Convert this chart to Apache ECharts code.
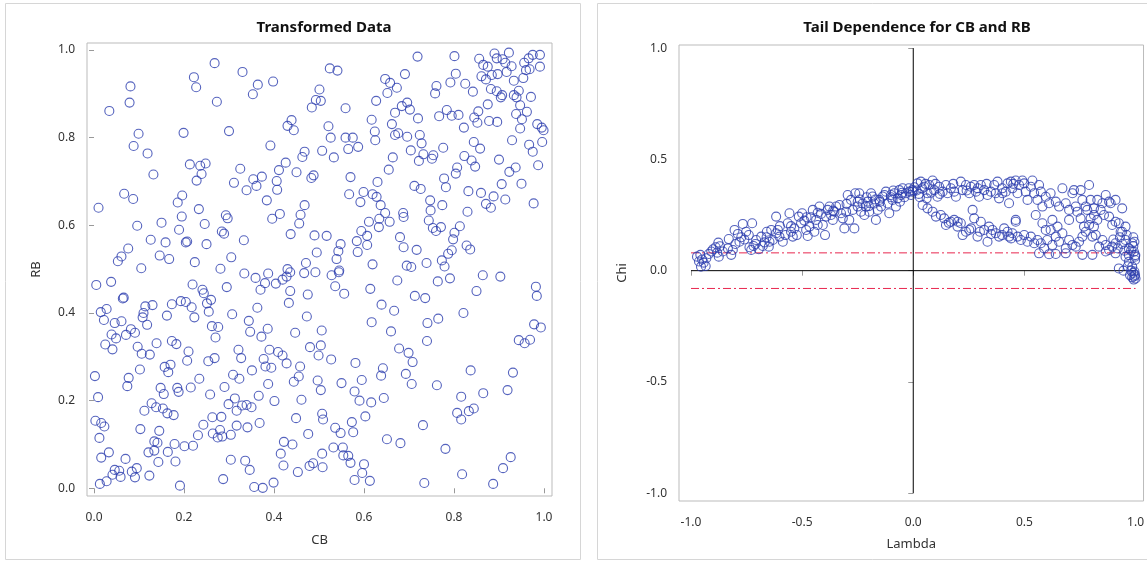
<!DOCTYPE html>
<html lang="en">
<head>
<meta charset="utf-8" />
<title>Transformed Data / Tail Dependence</title>
<script src="https://cdn.jsdelivr.net/npm/echarts@6/dist/echarts.min.js"></script>
<style>
	html, body { margin: 0; padding: 0; background: #fff; }
	#chart { width: 1147px; height: 562px; }
</style>
</head>
<body>
<div id="chart"></div>
<script>
// CB vs RB (copula scale)
var transformed = [
	[0.268,0.970],[0.330,0.950],[0.222,0.938],[0.227,0.915],[0.081,0.917],[0.364,0.921],[0.398,0.928],[0.353,0.899],[0.501,0.910],[0.079,0.880],
	[0.273,0.882],[0.034,0.861],[0.493,0.886],[0.504,0.884],[0.484,0.869],[0.439,0.840],[0.430,0.827],[0.444,0.817],[0.099,0.809],[0.199,0.811],
	[0.300,0.815],[0.088,0.781],[0.392,0.782],[0.119,0.764],[0.468,0.768],[0.463,0.756],[0.507,0.770],[0.213,0.739],[0.236,0.736],[0.248,0.741],
	[0.239,0.717],[0.228,0.702],[0.132,0.716],[0.325,0.729],[0.426,0.743],[0.411,0.726],[0.450,0.721],[0.311,0.697],[0.354,0.705],[0.373,0.711],
	[0.361,0.690],[0.339,0.680],[0.406,0.701],[0.407,0.681],[0.483,0.708],[0.488,0.714],[0.067,0.672],[0.087,0.660],[0.196,0.668],[0.186,0.652],
	[0.010,0.640],[0.233,0.637],[0.384,0.657],[0.468,0.646],[0.293,0.623],[0.297,0.616],[0.195,0.620],[0.396,0.615],[0.413,0.626],[0.459,0.624],
	[0.456,0.604],[0.096,0.599],[0.150,0.606],[0.246,0.603],[0.189,0.590],[0.284,0.586],[0.289,0.581],[0.437,0.580],[0.490,0.577],[0.126,0.567],
	[0.159,0.561],[0.204,0.561],[0.207,0.563],[0.250,0.557],[0.333,0.566],[0.076,0.547],[0.061,0.529],[0.053,0.518],[0.146,0.531],[0.167,0.523],
	[0.224,0.516],[0.305,0.527],[0.495,0.538],[0.471,0.514],[0.105,0.502],[0.281,0.501],[0.430,0.500],
	[0.334,0.490],[0.359,0.480],[0.387,0.490],[0.380,0.468],[0.370,0.453],[0.404,0.467],[0.419,0.476],[0.428,0.483],[0.436,0.493],[0.467,0.491],
	[0.492,0.493],[0.005,0.464],[0.038,0.471],[0.219,0.465],[0.241,0.453],[0.244,0.445],[0.295,0.459],[0.436,0.450],[0.475,0.442],[0.064,0.433],
	[0.066,0.435],[0.015,0.402],[0.028,0.409],[0.022,0.384],[0.046,0.377],[0.061,0.381],[0.114,0.415],[0.130,0.418],[0.110,0.400],[0.108,0.390],
	[0.118,0.373],[0.173,0.420],[0.193,0.427],[0.204,0.425],[0.217,0.413],[0.223,0.390],[0.251,0.422],[0.260,0.430],[0.255,0.403],[0.162,0.394],
	[0.307,0.397],[0.363,0.412],[0.344,0.382],[0.433,0.423],[0.473,0.392],[0.262,0.370],[0.276,0.368],[0.270,0.344],[0.347,0.357],[0.386,0.364],
	[0.372,0.346],[0.447,0.355],[0.506,0.360],[0.039,0.351],[0.049,0.342],[0.082,0.363],[0.091,0.355],[0.071,0.350],[0.025,0.328],[0.041,0.317],
	[0.097,0.323],[0.106,0.307],[0.124,0.305],[0.139,0.331],[0.173,0.336],[0.183,0.329],[0.210,0.312],[0.207,0.291],[0.254,0.290],[0.268,0.297],
	[0.321,0.316],[0.327,0.297],[0.351,0.269],[0.377,0.295],[0.381,0.278],[0.394,0.275],[0.390,0.316],[0.409,0.311],[0.419,0.303],[0.428,0.285],
	[0.458,0.278],[0.455,0.255],[0.444,0.243],[0.480,0.322],[0.499,0.303],[0.504,0.326],[0.497,0.246],[0.504,0.224],[0.461,0.202],[0.507,0.170],
	[0.509,0.157],[0.002,0.256],[0.077,0.252],[0.074,0.233],[0.102,0.271],[0.157,0.277],[0.170,0.282],[0.165,0.265],[0.148,0.229],[0.155,0.215],
	[0.185,0.229],[0.188,0.220],[0.215,0.230],[0.234,0.250],[0.258,0.214],[0.290,0.231],[0.309,0.259],[0.323,0.250],[0.313,0.205],[0.299,0.192],
	[0.317,0.177],[0.329,0.189],[0.339,0.190],[0.350,0.185],[0.366,0.211],[0.387,0.238],[0.401,0.199],[0.009,0.208],[0.128,0.194],[0.138,0.185],
	[0.153,0.182],[0.163,0.171],[0.177,0.167],[0.112,0.177],[0.003,0.154],[0.016,0.149],[0.023,0.141],[0.012,0.115],[0.103,0.135],[0.145,0.131],
	[0.134,0.107],[0.141,0.104],[0.179,0.101],[0.263,0.162],[0.283,0.163],[0.243,0.145],[0.264,0.125],[0.275,0.116],[0.280,0.133],[0.285,0.118],
	[0.304,0.122],[0.317,0.143],[0.341,0.139],[0.368,0.149],[0.201,0.096],[0.220,0.097],[0.231,0.121],[0.449,0.160],[0.476,0.124],[0.422,0.106],
	[0.441,0.100],[0.415,0.079],[0.421,0.052],[0.033,0.082],[0.016,0.070],[0.070,0.067],[0.121,0.082],[0.134,0.086],[0.164,0.083],[0.143,0.060],
	[0.181,0.061],[0.304,0.065],[0.336,0.063],[0.346,0.042],[0.046,0.042],[0.056,0.040],[0.041,0.031],[0.059,0.026],[0.084,0.038],[0.095,0.046],
	[0.091,0.025],[0.123,0.029],[0.013,0.010],[0.028,0.016],[0.191,0.006],[0.287,0.021],[0.356,0.003],[0.375,0.001],[0.399,0.013],[0.453,0.037],
	[0.479,0.051],[0.487,0.057],[0.507,0.079],[0.508,0.048],
	[0.528,0.486],[0.544,0.493],[0.536,0.461],[0.556,0.444],[0.614,0.455],[0.674,0.474],[0.764,0.472],[0.791,0.479],[0.864,0.486],[0.903,0.483],
	[0.850,0.450],[0.982,0.460],[0.984,0.439],[0.713,0.439],[0.736,0.434],[0.639,0.419],[0.667,0.405],[0.617,0.379],[0.660,0.358],[0.741,0.377],
	[0.765,0.387],[0.821,0.400],[0.978,0.374],[0.993,0.367],[0.944,0.338],[0.957,0.331],[0.969,0.339],[0.740,0.336],[0.678,0.319],[0.699,0.309],
	[0.708,0.288],[0.527,0.294],[0.581,0.286],[0.642,0.274],[0.638,0.257],[0.595,0.247],[0.550,0.240],[0.693,0.261],[0.706,0.238],[0.762,0.235],
	[0.837,0.269],[0.931,0.264],[0.919,0.224],[0.865,0.217],[0.816,0.209],[0.579,0.221],[0.590,0.200],[0.616,0.196],[0.644,0.206],[0.603,0.164],
	[0.573,0.151],[0.576,0.128],[0.536,0.138],[0.548,0.126],[0.807,0.172],[0.833,0.176],[0.844,0.182],[0.816,0.157],[0.731,0.144],[0.651,0.112],
	[0.681,0.103],[0.781,0.090],[0.532,0.093],[0.553,0.093],[0.554,0.075],[0.565,0.074],[0.570,0.058],[0.600,0.055],[0.596,0.035],[0.579,0.019],
	[0.613,0.017],[0.734,0.012],[0.818,0.032],[0.887,0.010],[0.909,0.046],[0.926,0.071],
	[0.719,0.985],[0.801,0.986],[0.856,0.980],[0.890,0.992],[0.895,0.981],[0.908,0.979],[0.922,0.994],[0.914,0.971],[0.928,0.963],[0.865,0.966],
	[0.875,0.962],[0.956,0.971],[0.966,0.981],[0.975,0.989],[0.991,0.989],[0.960,0.954],[0.968,0.956],[0.991,0.962],[0.524,0.958],[0.541,0.953],
	[0.691,0.945],[0.804,0.946],[0.861,0.940],[0.871,0.933],[0.884,0.943],[0.897,0.945],[0.917,0.950],[0.933,0.930],[0.954,0.936],[0.647,0.934],
	[0.658,0.925],[0.673,0.914],[0.652,0.902],[0.761,0.918],[0.758,0.901],[0.792,0.926],[0.825,0.923],[0.842,0.905],[0.882,0.911],[0.895,0.906],
	[0.907,0.897],[0.904,0.892],[0.933,0.897],[0.944,0.907],[0.939,0.892],[0.947,0.874],[0.938,0.854],[0.951,0.842],[0.962,0.859],[0.971,0.893],
	[0.627,0.884],[0.559,0.867],[0.684,0.872],[0.696,0.880],[0.702,0.864],[0.669,0.857],[0.617,0.841],[0.662,0.831],[0.720,0.844],[0.767,0.849],
	[0.784,0.863],[0.795,0.850],[0.810,0.852],[0.854,0.860],[0.845,0.846],[0.852,0.834],[0.875,0.876],[0.878,0.838],[0.896,0.836],[0.822,0.823],
	[0.947,0.821],[0.985,0.831],[0.995,0.823],[0.999,0.817],[0.521,0.826],[0.526,0.800],[0.533,0.755],[0.559,0.800],[0.575,0.800],[0.565,0.774],
	[0.587,0.779],[0.624,0.814],[0.625,0.794],[0.669,0.806],[0.676,0.810],[0.696,0.802],[0.724,0.806],[0.728,0.787],[0.704,0.771],[0.732,0.762],
	[0.722,0.747],[0.754,0.760],[0.751,0.752],[0.776,0.777],[0.844,0.790],[0.858,0.775],[0.823,0.758],[0.839,0.748],[0.847,0.734],[0.929,0.794],
	[0.967,0.784],[0.975,0.768],[0.996,0.790],[0.900,0.750],[0.987,0.737],[0.664,0.755],[0.655,0.727],[0.807,0.732],[0.804,0.718],[0.937,0.732],
	[0.923,0.722],[0.570,0.710],[0.630,0.699],[0.712,0.690],[0.726,0.683],[0.778,0.707],[0.782,0.687],[0.906,0.694],[0.950,0.695],[0.567,0.671],
	[0.599,0.676],[0.592,0.653],[0.619,0.671],[0.628,0.665],[0.832,0.678],[0.860,0.674],[0.888,0.666],[0.914,0.659],[0.871,0.649],[0.882,0.640],
	[0.977,0.650],[0.747,0.657],[0.774,0.646],[0.748,0.634],[0.744,0.611],[0.830,0.631],[0.637,0.646],[0.647,0.628],[0.634,0.615],[0.633,0.596],
	[0.657,0.608],[0.611,0.608],[0.687,0.628],[0.688,0.619],[0.753,0.594],[0.760,0.587],[0.771,0.596],[0.813,0.598],[0.801,0.583],[0.798,0.568],
	[0.594,0.587],[0.607,0.576],[0.584,0.564],[0.607,0.555],[0.586,0.539],[0.517,0.576],[0.548,0.557],[0.543,0.541],[0.539,0.523],[0.545,0.497],
	[0.680,0.573],[0.688,0.550],[0.717,0.544],[0.787,0.535],[0.795,0.543],[0.773,0.520],[0.828,0.554],[0.836,0.545],[0.619,0.511],[0.695,0.508],
	[0.705,0.505],[0.739,0.514],[0.779,0.506]
];

// Lambda vs Chi
var tailDep = [
	[-0.973,0.063],[-0.958,0.071],[-0.964,0.041],[-0.943,0.036],[-0.934,0.021],[-0.955,0.018],[-0.931,0.056],[-0.909,0.086],[-0.901,0.096],[-0.875,0.063],
	[-0.882,0.081],[-0.877,0.126],[-0.889,0.105],[-0.857,0.086],[-0.834,0.100],[-0.830,0.142],[-0.819,0.071],[-0.812,0.093],[-0.804,0.183],[-0.789,0.165],
	[-0.782,0.130],[-0.774,0.150],[-0.767,0.210],[-0.752,0.175],[-0.740,0.160],[-0.737,0.105],[-0.729,0.093],[-0.725,0.213],[-0.719,0.111],[-0.707,0.138],
	[-0.695,0.096],[-0.684,0.153],[-0.677,0.111],[-0.669,0.127],[-0.659,0.175],[-0.647,0.130],[-0.650,0.108],[-0.639,0.183],[-0.632,0.138],[-0.617,0.243],
	[-0.617,0.168],[-0.609,0.183],[-0.602,0.153],[-0.587,0.130],[-0.575,0.160],[-0.565,0.213],[-0.557,0.258],[-0.550,0.175],[-0.542,0.153],[-0.535,0.190],
	[-0.524,0.160],[-0.515,0.243],[-0.505,0.213],[-0.500,0.258],[-0.490,0.225],[-0.482,0.183],[-0.475,0.156],[-0.467,0.198],[-0.460,0.240],[-0.452,0.273],
	[-0.445,0.175],[-0.437,0.228],[-0.430,0.205],[-0.422,0.288],[-0.415,0.255],[-0.407,0.205],[-0.397,0.160],[-0.392,0.243],[-0.385,0.273],[-0.377,0.288],
	[-0.370,0.250],[-0.362,0.228],[-0.355,0.265],[-0.347,0.288],[-0.332,0.295],[-0.325,0.258],[-0.317,0.235],[-0.310,0.190],[-0.302,0.265],[-0.295,0.340],
	[-0.288,0.228],[-0.280,0.318],[-0.273,0.273],[-0.265,0.190],[-0.261,0.348],[-0.250,0.288],[-0.243,0.348],[-0.235,0.265],[-0.228,0.302],[-0.220,0.250],
	[-0.213,0.288],[-0.205,0.310],[-0.198,0.265],[-0.190,0.348],[-0.183,0.333],[-0.175,0.302],[-0.168,0.228],[-0.160,0.273],[-0.153,0.318],[-0.145,0.288],
	[-0.138,0.333],[-0.123,0.355],[-0.115,0.302],[-0.108,0.258],[-0.100,0.340],[-0.093,0.318],[-0.085,0.348],[-0.078,0.288],[-0.070,0.325],[-0.063,0.362],
	[-0.055,0.340],[-0.048,0.370],[-0.033,0.348],[-0.018,0.355],[-0.003,0.362],
	[-0.950,0.050],[-0.920,0.075],[-0.870,0.110],[-0.800,0.120],[-0.760,0.140],[-0.710,0.120],[-0.660,0.150],[-0.600,0.200],[-0.550,0.200],[-0.480,0.240],
	[-0.430,0.260],[-0.360,0.270],[-0.300,0.300],[-0.250,0.310],[-0.200,0.290],[-0.150,0.310],[-0.100,0.330],[-0.050,0.350],[-0.020,0.370],
	[-0.240,0.320],[-0.210,0.330],[-0.170,0.320],[-0.130,0.340],[-0.090,0.360],[-0.060,0.310],[-0.040,0.330],[-0.010,0.340],
	[-0.003,0.355],[0.019,0.392],[0.034,0.400],[0.049,0.377],[0.064,0.348],[0.072,0.385],[0.087,0.405],[0.094,0.362],[0.109,0.332],[0.117,0.377],
	[0.005,0.375],[0.015,0.360],[0.025,0.345],[0.040,0.370],[0.055,0.390],[0.080,0.350],[0.100,0.390],[0.120,0.345],[0.030,0.330],[0.060,0.325],
	[0.132,0.355],[0.147,0.385],[0.154,0.348],[0.169,0.370],[0.184,0.355],[0.192,0.332],[0.214,0.400],[0.222,0.362],[0.237,0.385],[0.252,0.348],
	[0.259,0.377],[0.274,0.385],[0.282,0.355],[0.296,0.332],[0.304,0.385],[0.319,0.362],[0.334,0.340],[0.349,0.355],[0.364,0.385],[0.371,0.348],
	[0.379,0.400],[0.386,0.325],[0.401,0.348],[0.416,0.355],[0.424,0.392],[0.431,0.303],[0.439,0.400],[0.446,0.370],[0.461,0.405],[0.469,0.348],
	[0.180,0.390],[0.240,0.360],[0.290,0.370],[0.330,0.390],[0.400,0.370],[0.450,0.390],
	[0.476,0.385],[0.491,0.405],[0.499,0.392],[0.506,0.355],[0.514,0.318],[0.529,0.377],[0.536,0.405],[0.544,0.348],[0.559,0.318],[0.566,0.385],
	[0.574,0.355],[0.581,0.288],[0.596,0.332],[0.611,0.303],[0.618,0.348],[0.641,0.310],[0.656,0.288],[0.671,0.370],[0.686,0.303],[0.701,0.273],
	[0.716,0.348],[0.723,0.362],[0.738,0.265],[0.753,0.362],[0.761,0.318],[0.776,0.288],[0.791,0.385],[0.798,0.318],[0.813,0.280],[0.828,0.318],
	[0.843,0.273],[0.851,0.303],[0.866,0.340],[0.881,0.310],[0.888,0.303],[0.910,0.318],[0.940,0.280],
	[0.042,0.295],[0.064,0.280],[0.087,0.265],[0.102,0.243],[0.124,0.250],[0.139,0.235],[0.147,0.205],[0.169,0.220],[0.184,0.228],[0.199,0.198],
	[0.214,0.213],[0.222,0.160],[0.237,0.175],[0.252,0.183],[0.267,0.273],[0.274,0.235],[0.289,0.153],[0.304,0.220],[0.319,0.183],[0.334,0.130],
	[0.160,0.215],[0.200,0.220],[0.260,0.190],[0.300,0.175],[0.350,0.165],[0.400,0.160],[0.440,0.145],
	[0.341,0.198],[0.356,0.183],[0.371,0.168],[0.386,0.153],[0.409,0.190],[0.424,0.175],[0.431,0.153],[0.446,0.168],[0.461,0.228],[0.469,0.153],
	[0.484,0.138],[0.499,0.160],[0.514,0.130],[0.529,0.153],[0.544,0.123],[0.559,0.138],[0.574,0.123],[0.589,0.100],[0.603,0.138],[0.618,0.183],
	[0.626,0.115],[0.641,0.153],[0.656,0.130],[0.671,0.168],[0.686,0.100],[0.701,0.138],[0.716,0.115],[0.731,0.108],[0.746,0.130],[0.761,0.153],
	[0.776,0.175],[0.791,0.205],[0.798,0.235],[0.806,0.153],[0.813,0.198],[0.821,0.160],[0.836,0.108],[0.851,0.138],[0.866,0.115],[0.881,0.093],
	[0.895,0.108],[0.910,0.123],[0.925,0.213],[0.940,0.175],[0.955,0.138],[0.970,0.100],[0.985,0.123],[0.993,0.085],[0.998,0.063],[0.995,0.130],
	[0.998,0.048],[0.999,0.070],
	[0.900,0.140],[0.920,0.100],[0.940,0.120],[0.960,0.160],[0.970,0.070],[0.980,0.090],[0.990,0.150],[0.930,0.150],[0.950,0.090],[0.990,0.110],
	[0.566,0.078],[0.611,0.074],[0.641,0.075],[0.686,0.078],[0.761,0.071],[0.806,0.071],[0.866,0.086],[0.910,0.078],[0.955,0.063],[0.970,0.040],
	[0.985,0.018],[0.995,-0.004],[0.998,-0.019],[0.990,-0.010],[0.995,-0.025],[1.000,-0.035],[0.985,-0.030],[0.975,-0.020],[0.980,0.000],[0.965,0.020],
	[0.992,-0.040],[0.925,0.010],[0.946,0.000],
	[0.551,0.250],[0.581,0.213],[0.596,0.183],[0.461,0.220],[0.626,0.228],[0.649,0.198],[0.701,0.228],[0.731,0.288],[0.753,0.235],[0.768,0.198],
	[0.783,0.273],[0.813,0.250],[0.828,0.228],[0.858,0.250],[0.881,0.243],[0.895,0.205],[0.910,0.220],[0.933,0.175],[0.955,0.198]
];

var unitTicks = [0, 0.2, 0.4, 0.6, 0.8, 1.0];
var lambdaTicks = [-1, -0.5, 0, 0.5, 1];
var chiTicks = [-1, -0.5, 0, 0.5, 1];
var lambdaSpan = [-1, 1];
var chiSpan = [-1, 1];
var chiBound = 0.08;

var ink = '#2a3cae';
var txt = '#333';
var font = 'Noto Sans';

function axis(grid, min, max, ticks, name, gap, margin) {
	return {
		type: 'value', gridIndex: grid, min: min, max: max,
		name: name, nameLocation: 'middle', nameGap: gap,
		nameTextStyle: { color: txt, fontSize: 13, fontFamily: font },
		axisLine: { show: false },
		axisTick: { show: true, length: 5, customValues: ticks, lineStyle: { color: '#999' } },
		axisLabel: {
			customValues: ticks, color: txt, fontSize: 12, fontFamily: font, margin: margin,
			formatter: function (v) { return v.toFixed(1); }
		},
		splitLine: { show: false }
	};
}

function refLine(pts, color, type) {
	return {
		type: 'line', xAxisIndex: 1, yAxisIndex: 1, data: pts, symbol: 'none',
		silent: true, lineStyle: { color: color, width: 1, type: type }, z: 1
	};
}

function cloud(idx, pts) {
	return {
		type: 'scatter', xAxisIndex: idx, yAxisIndex: idx, data: pts,
		symbol: 'circle', symbolSize: 9,
		itemStyle: { color: 'rgba(0,0,0,0)', borderColor: ink, borderWidth: 1.1 }, z: 2
	};
}

var chart = echarts.init(document.getElementById('chart'));

chart.setOption({
	animation: false,
	backgroundColor: '#fff',
	title: [
		{ text: 'Transformed Data', left: 319, top: 15, textAlign: 'center',
			textStyle: { fontSize: 15, fontWeight: 'bold', color: '#111', fontFamily: font } },
		{ text: 'Tail Dependence for CB and RB', left: 912, top: 15, textAlign: 'center',
			textStyle: { fontSize: 15, fontWeight: 'bold', color: '#111', fontFamily: font } }
	],
	graphic: [
		{ type: 'rect', shape: { x: 5.5, y: 3.5, width: 575, height: 556 }, style: { fill: 'none', stroke: '#d6d6d6', lineWidth: 1 }, z: -1, silent: true },
		{ type: 'rect', shape: { x: 597.5, y: 3.5, width: 560, height: 556 }, style: { fill: 'none', stroke: '#d6d6d6', lineWidth: 1 }, z: -1, silent: true }
	],
	grid: [
		{ left: 87, top: 43, width: 465, height: 453, show: true, borderColor: '#bbb', borderWidth: 1 },
		{ left: 679, top: 45, width: 466, height: 456, show: true, borderColor: '#bbb', borderWidth: 1 }
	],
	xAxis: [
		axis(0, -0.0156, 1.0178, unitTicks, 'CB', 38, 16),
		axis(1, -1.054, 1.036, lambdaTicks, 'Lambda', 37, 16)
	],
	yAxis: [
		axis(0, -0.0176, 1.016, unitTicks, 'RB', 44, 12),
		axis(1, -1.035, 1.014, chiTicks, 'Chi', 50, 12)
	],
	series: [
		refLine([[lambdaSpan[0], chiBound], [lambdaSpan[1], chiBound]], '#e8274f', [8, 3, 2, 3]),
		refLine([[lambdaSpan[0], -chiBound], [lambdaSpan[1], -chiBound]], '#e8274f', [8, 3, 2, 3]),
		refLine([[lambdaSpan[0], 0], [lambdaSpan[1], 0]], '#000', 'solid'),
		refLine([[0, chiSpan[0]], [0, chiSpan[1]]], '#000', 'solid'),
		cloud(0, transformed),
		cloud(1, tailDep)
	]
});

window.addEventListener('resize', function () { chart.resize(); });
</script>
</body>
</html>
